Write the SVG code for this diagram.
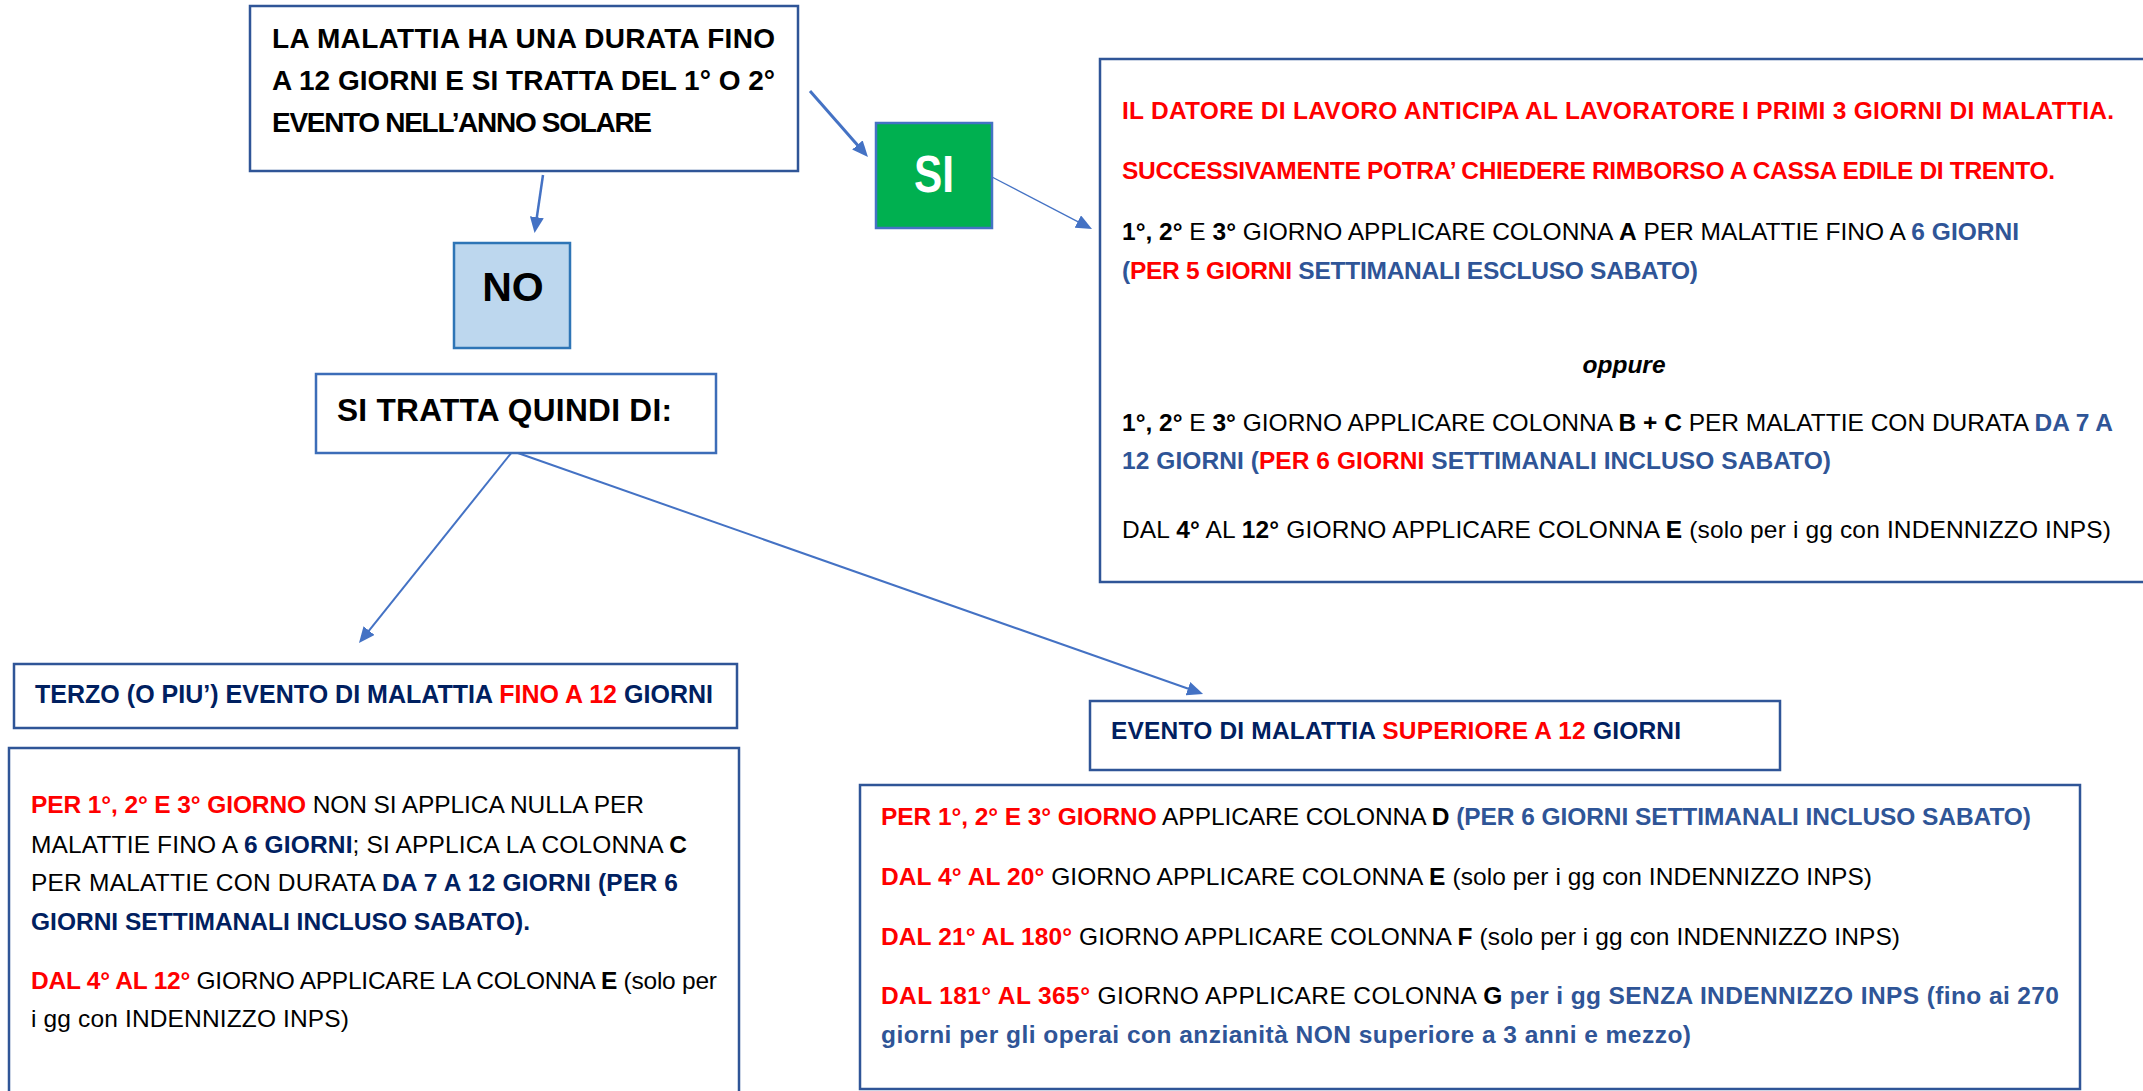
<svg xmlns="http://www.w3.org/2000/svg" width="2143" height="1091" viewBox="0 0 2143 1091">
<style>
text{font-family:"Liberation Sans",Arial,sans-serif;fill:#000;font-size:24.5px}
.b{font-weight:bold}
.r{fill:#FF0000}
.n{fill:#002060}
.bl{fill:#2F5597}
.t28{font-size:28px}
.t25{font-size:25px}
.box{fill:#fff;stroke:#2F5597;stroke-width:2.5}
.box2{fill:#fff;stroke:#3C6DB8;stroke-width:2.5}
.con{stroke:#4472C4;fill:none}
</style>
<defs>
<marker id="ah" markerUnits="userSpaceOnUse" markerWidth="16" markerHeight="14" refX="8" refY="7" orient="auto">
<path d="M0,0 L16,7 L0,14 Z" fill="#4472C4"/>
</marker>
</defs>
<rect width="2143" height="1091" fill="#fff"/>

<g id="connectors">
<line class="con" x1="543" y1="175" x2="535.7" y2="225.1" stroke-width="2.5" marker-end="url(#ah)"/>
<line class="con" x1="810" y1="91" x2="862.7" y2="151" stroke-width="3" marker-end="url(#ah)"/>
<line class="con" x1="992" y1="177" x2="1084.9" y2="225.3" stroke-width="1.3" marker-end="url(#ah)"/>
<line class="con" x1="512" y1="452" x2="364" y2="636.8" stroke-width="2" marker-end="url(#ah)"/>
<line class="con" x1="515" y1="452" x2="1195.5" y2="691.3" stroke-width="2" marker-end="url(#ah)"/>
</g>

<g id="node-question">
<rect class="box" x="250" y="6" width="548" height="165"/>
<text class="b t28" x="272" y="48" textLength="503">LA MALATTIA HA UNA DURATA FINO</text>
<text class="b t28" x="272" y="90" textLength="503">A 12 GIORNI E SI TRATTA DEL 1° O 2°</text>
<text class="b t28" x="272" y="132" textLength="380">EVENTO NELL’ANNO SOLARE</text>
</g>

<g id="node-no">
<rect x="454" y="243" width="116" height="105" fill="#BDD7EE" stroke="#2E75B6" stroke-width="2.5"/>
<text class="b" x="513" y="301" text-anchor="middle" style="font-size:41px">NO</text>
</g>

<g id="node-si">
<rect x="876" y="123" width="116" height="105" fill="#00B050" stroke="#4472C4" stroke-width="2.5"/>
<text class="b" x="914" y="192" textLength="40" lengthAdjust="spacingAndGlyphs" style="font-size:52px;fill:#fff">SI</text>
</g>

<g id="node-quindi">
<rect class="box2" x="316" y="374" width="400" height="79"/>
<text class="b" x="337" y="421" textLength="335" style="font-size:31.6px">SI TRATTA QUINDI DI:</text>
</g>

<g id="node-si-detail">
<rect class="box" x="1100" y="59" width="1100" height="523"/>
<text class="b r" x="1122" y="119" textLength="992">IL DATORE DI LAVORO ANTICIPA AL LAVORATORE I PRIMI 3 GIORNI DI MALATTIA.</text>
<text class="b r" x="1122" y="179" textLength="933">SUCCESSIVAMENTE POTRA’ CHIEDERE RIMBORSO A CASSA EDILE DI TRENTO.</text>
<text x="1122" y="240" textLength="897"><tspan class="b">1°, 2°</tspan> E <tspan class="b">3°</tspan> GIORNO APPLICARE COLONNA <tspan class="b">A</tspan> PER MALATTIE FINO A <tspan class="b bl">6 GIORNI</tspan></text>
<text class="b bl" x="1122" y="279" textLength="576">(<tspan class="r">PER 5 GIORNI</tspan> SETTIMANALI ESCLUSO SABATO)</text>
<text class="b" x="1624" y="373" text-anchor="middle" font-style="italic">oppure</text>
<text x="1122" y="431" textLength="991"><tspan class="b">1°, 2°</tspan> E <tspan class="b">3°</tspan> GIORNO APPLICARE COLONNA <tspan class="b">B + C</tspan> PER MALATTIE CON DURATA <tspan class="b bl">DA 7 A</tspan></text>
<text class="b bl" x="1122" y="469" textLength="709">12 GIORNI (<tspan class="r">PER 6 GIORNI</tspan> SETTIMANALI INCLUSO SABATO)</text>
<text x="1122" y="538" textLength="989">DAL <tspan class="b">4°</tspan> AL <tspan class="b">12°</tspan> GIORNO APPLICARE COLONNA <tspan class="b">E</tspan> (solo per i gg con INDENNIZZO INPS)</text>
</g>

<g id="node-terzo">
<rect class="box" x="14" y="664" width="723" height="64"/>
<text class="b n t25" x="35" y="703" textLength="678">TERZO (O PIU’) EVENTO DI MALATTIA <tspan class="r">FINO A 12</tspan> GIORNI</text>
</g>

<g id="node-terzo-detail">
<rect class="box" x="9" y="748" width="730" height="400"/>
<text x="31" y="813" textLength="613"><tspan class="b r">PER 1°, 2° E 3° GIORNO</tspan> NON SI APPLICA NULLA PER</text>
<text x="31" y="853" textLength="656">MALATTIE FINO A <tspan class="b n">6 GIORNI</tspan>; SI APPLICA LA COLONNA <tspan class="b">C</tspan></text>
<text x="31" y="891" textLength="647">PER MALATTIE CON DURATA <tspan class="b n">DA 7 A 12 GIORNI (PER 6</tspan></text>
<text class="b n" x="31" y="930" textLength="499">GIORNI SETTIMANALI INCLUSO SABATO).</text>
<text x="31" y="989" textLength="686"><tspan class="b r">DAL 4° AL 12°</tspan> GIORNO APPLICARE LA COLONNA <tspan class="b">E</tspan> (solo per</text>
<text x="31" y="1027" textLength="318">i gg con INDENNIZZO INPS)</text>
</g>

<g id="node-superiore">
<rect class="box" x="1090" y="701" width="690" height="69"/>
<text class="b n" x="1111" y="739" textLength="570">EVENTO DI MALATTIA <tspan class="r">SUPERIORE A 12</tspan> GIORNI</text>
</g>

<g id="node-superiore-detail">
<rect class="box" x="860" y="785" width="1220" height="304"/>
<text x="881" y="825" textLength="1150"><tspan class="b r">PER 1°, 2° E 3° GIORNO</tspan> APPLICARE COLONNA <tspan class="b">D</tspan> <tspan class="b bl">(PER 6 GIORNI SETTIMANALI INCLUSO SABATO)</tspan></text>
<text x="881" y="885" textLength="991"><tspan class="b r">DAL 4° AL 20°</tspan> GIORNO APPLICARE COLONNA <tspan class="b">E</tspan> (solo per i gg con INDENNIZZO INPS)</text>
<text x="881" y="945" textLength="1019"><tspan class="b r">DAL 21° AL 180°</tspan> GIORNO APPLICARE COLONNA <tspan class="b">F</tspan> (solo per i gg con INDENNIZZO INPS)</text>
<text x="881" y="1004" textLength="1178"><tspan class="b r">DAL 181° AL 365°</tspan> GIORNO APPLICARE COLONNA <tspan class="b">G</tspan> <tspan class="b bl">per i gg SENZA INDENNIZZO INPS (fino ai 270</tspan></text>
<text class="b bl" x="881" y="1043" textLength="810">giorni per gli operai con anzianità NON superiore a 3 anni e mezzo)</text>
</g>
</svg>
